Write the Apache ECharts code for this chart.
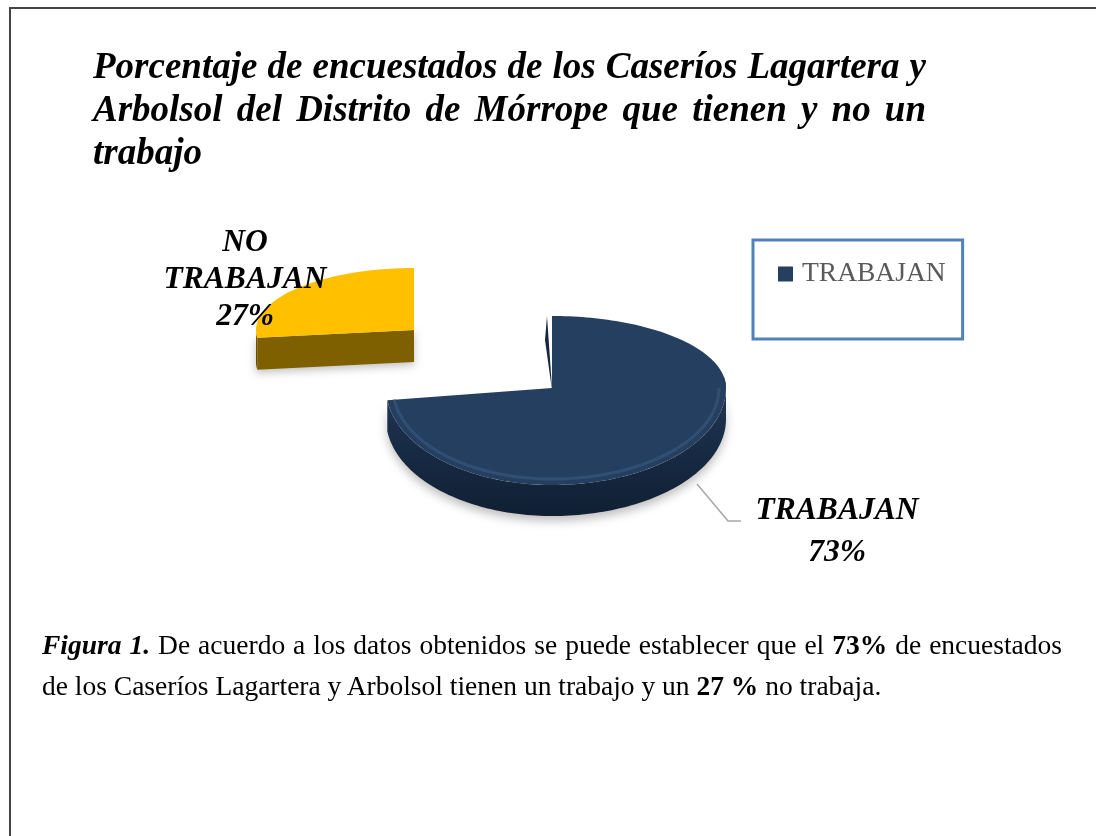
<!DOCTYPE html>
<html>
<head>
<meta charset="utf-8">
<script src="https://cdn.jsdelivr.net/npm/echarts@6/dist/echarts.min.js"></script>
<style>
    html, body { margin: 0; padding: 0; background: #fff; }
    .page {
        position: relative;
        width: 1096px;
        height: 836px;
        overflow: hidden;
        font-family: "Liberation Serif", serif;
        color: #000;
    }
    .frame {
        position: absolute;
        left: 9px;
        top: 7px;
        width: 1100px;
        height: 850px;
        border: 2px solid #444;
    }
    .charts {
        position: absolute;
        left: 0;
        top: 0;
        width: 1096px;
        height: 836px;
    }
    .title {
        position: absolute;
        left: 93px;
        top: 44px;
        width: 833px;
        margin: 0;
        font-size: 37px;
        line-height: 43px;
        font-weight: bold;
        font-style: italic;
        text-align: justify;
    }
    .caption {
        position: absolute;
        left: 42px;
        top: 624px;
        width: 1020px;
        margin: 0;
        font-size: 27.5px;
        line-height: 41px;
        text-align: justify;
    }
</style>
</head>
<body>
<div class="page">
    <div class="frame"></div>
    <div class="charts" id="charts"></div>
    <h1 class="title">Porcentaje de encuestados de los Caseríos Lagartera y Arbolsol del Distrito de Mórrope que tienen y no un trabajo</h1>
    <p class="caption"><b><i>Figura 1.</i></b> De acuerdo a los datos obtenidos se puede establecer que el <b>73%</b> de encuestados de los Caseríos Lagartera y Arbolsol tienen un trabajo y un <b>27 %</b> no trabaja.</p>
</div>

<script>
const categories = ["TRABAJAN", "NO TRABAJAN"];
const shares = [73, 27];
const legendItems = ["TRABAJAN"];

// how each slice is placed on the page (the 3D look is faked with a squashed ellipse)
const sliceLayout = [
    { cx: 552, cy: 388, rx: [174, 166], ryTop: 72, ryBottom: 97, depth: 31 },
    { cx: 414, cy: 330, rx: [160, 158], ryTop: 62, ryBottom: 62, depth: 32 },
];
const sliceColors = [
    { top: "#243f60", rim: "#3c5a80", sideA: "#1f3654", sideB: "#101f33" },
    { top: "#ffc000", rim: "#ffc000", sideA: "#7f6000", sideB: "#6b5000" },
];
const labelPlace = [
    { x: 837, y: 532, lineHeight: 42 },
    { x: 245, y: 280, lineHeight: 37 },
];

const total = shares.reduce((a, b) => a + b, 0);

// angle 0 is 12 o'clock, going clockwise
function rimPoint(p, angle, extraY) {
    const sin = Math.sin(angle);
    const cos = Math.cos(angle);
    const rx = sin >= 0 ? p.rx[0] : p.rx[1];
    const ry = cos >= 0 ? p.ryTop : p.ryBottom;
    return [p.cx + sin * rx, p.cy - cos * ry + (extraY || 0)];
}

function arcPoints(p, from, to, extraY) {
    const steps = Math.max(8, Math.round(Math.abs(to - from) * 40));
    const pts = [];
    for (let i = 0; i <= steps; i++) {
        pts.push(rimPoint(p, from + (to - from) * i / steps, extraY));
    }
    return pts;
}

function renderSlice(index) {
    return function (params, api) {
        const p = sliceLayout[index];
        const c = sliceColors[index];
        let start = 0;
        for (let i = 0; i < index; i++) start += shares[i];
        const from = start / total * Math.PI * 2;
        const to = from + api.value(0) / total * Math.PI * 2;

        const children = [];
        const topFace = [[p.cx, p.cy]].concat(arcPoints(p, from, to));

        // outer wall: only the part of the rim facing the viewer
        const wallFrom = Math.max(from, Math.PI / 2);
        const wallTo = Math.min(to, Math.PI * 1.5);
        if (wallTo > wallFrom) {
            const upper = arcPoints(p, wallFrom, wallTo);
            const lower = arcPoints(p, wallFrom, wallTo, p.depth);
            // extend the wall around to the far right of the rim
            children.push({
                type: "polygon",
                shape: { points: upper.concat(lower.reverse()) },
                style: {
                    fill: new echarts.graphic.LinearGradient(0, 0, 0, 1, [
                        { offset: 0, color: c.sideA },
                        { offset: 1, color: c.sideB },
                    ]),
                    shadowBlur: 10,
                    shadowOffsetY: 5,
                    shadowColor: "rgba(0,0,0,0.25)",
                },
            });
        }
        if (index === 0) {
            // right shoulder of the wall, from 3 o'clock up a little and the cut wall by the notch
            const shoulder = arcPoints(p, 0.9 * Math.PI / 2, Math.PI / 2);
            const shoulderLow = arcPoints(p, 0.9 * Math.PI / 2, Math.PI / 2, 4);
            children.push({
                type: "polygon",
                shape: { points: shoulder.concat(shoulderLow.reverse()) },
                style: { fill: c.sideA },
            });
            children.push({
                type: "polygon",
                shape: { points: [[p.cx - 5, p.cy - 72], [p.cx, p.cy], [p.cx, p.cy + 2], [p.cx - 7, p.cy - 48]] },
                style: { fill: "#16283f" },
            });
        } else {
            // cut wall of the loose slice, facing the viewer
            const tip = rimPoint(p, from);
            children.push({
                type: "polygon",
                shape: {
                    points: [tip, [p.cx, p.cy], [p.cx, p.cy + p.depth], [tip[0], tip[1] + p.depth]],
                },
                style: {
                    fill: c.sideA,
                    shadowBlur: 8,
                    shadowOffsetY: 3,
                    shadowColor: "rgba(0,0,0,0.25)",
                },
            });
        }

        children.push({
            type: "polygon",
            shape: { points: topFace },
            style: { fill: c.top },
        });

        // soft bevel along the front of the rim
        if (wallTo > wallFrom && index === 0) {
            children.push({
                type: "polyline",
                shape: { points: arcPoints({ ...p, rx: [p.rx[0] - 7, p.rx[1] - 7], ryBottom: p.ryBottom - 6 }, wallFrom, wallTo) },
                style: { stroke: c.rim, lineWidth: 3, fill: null, opacity: 0.6 },
            });
        }

        const place = labelPlace[index];
        children.push({
            type: "text",
            z2: 10,
            style: {
                x: place.x,
                y: place.y,
                text: api.value(1),
                font: "italic bold 31.5px 'Liberation Serif'",
                lineHeight: place.lineHeight,
                fill: "#000",
                align: "center",
                verticalAlign: "middle",
            },
        });

        return { type: "group", children: children };
    };
}

const myCharts = echarts.init(document.getElementById("charts"));

myCharts.setOption({
    animation: false,
    legend: {
        data: legendItems,
        left: 753,
        top: 240,
        orient: "vertical",
        padding: [20, 17, 51, 25],
        itemWidth: 15,
        itemHeight: 15,
        itemGap: 0,
        icon: "rect",
        borderColor: "#4f81bd",
        borderWidth: 3,
        textStyle: {
            fontFamily: "Liberation Serif",
            fontSize: 27.5,
            color: "#595959",
            padding: [0, 0, 0, 4],
        },
    },
    series: categories.map((name, i) => ({
        name: name,
        type: "custom",
        coordinateSystem: "none",
        itemStyle: { color: sliceColors[i].top },
        silent: true,
        data: [[shares[i], name.replace(" ", "\n") + "\n" + shares[i] + "%"]],
        renderItem: renderSlice(i),
    })).concat([
        {
            // leader line of the big slice
            type: "lines",
            coordinateSystem: "none",
            silent: true,
            data: [],
        },
    ]).slice(0, 2),
    graphic: [
        {
            type: "polyline",
            shape: { points: [[697, 484], [728, 521], [741, 521]] },
            style: { stroke: "#a6a6a6", lineWidth: 1.5, fill: null },
            silent: true,
        },
    ],
});
</script>
</body>
</html>
